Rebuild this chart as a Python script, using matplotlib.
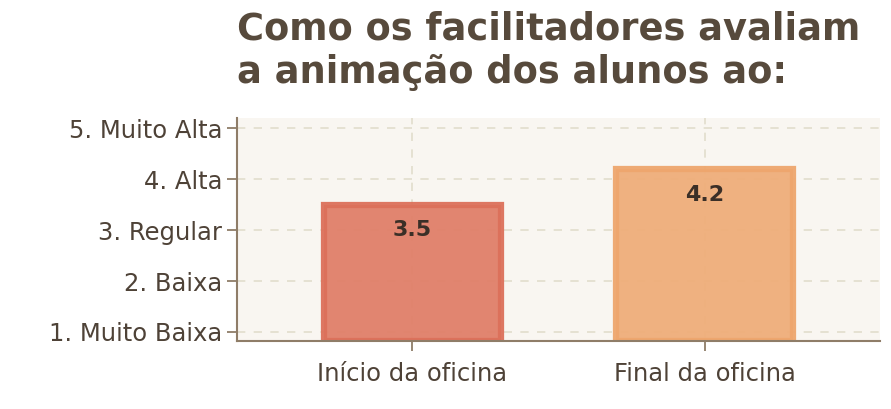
import matplotlib
matplotlib.use("Agg")
import matplotlib.pyplot as plt

categories = ["Início da oficina", "Final da oficina"]
values = [3.5, 4.2]
level_values = [1, 2, 3, 4, 5]
level_labels = ["1. Muito Baixa", "2. Baixa", "3. Regular", "4. Alta", "5. Muito Alta"]

face_colors = ["#e07f69", "#efae7a"]
edge_colors = ["#dc705a", "#eea66d"]
text_dark = "#4e4237"
spine_col = "#8f7d68"

fig = plt.figure(figsize=(8.91, 4.09), dpi=100)
ax = fig.add_axes([0.266, 0.166, 0.722, 0.545])
ax.set_facecolor("#f9f6f1")

xpos = list(range(len(categories)))
ax.grid(True, linestyle=(0, (5, 5)), color="#e2ddcc", linewidth=1.2, zorder=0)
ax.set_axisbelow(True)
ax.bar(xpos, [v - 0.82 for v in values], bottom=0.82, width=0.605,
       color=face_colors, edgecolor=edge_colors, linewidth=4.5, alpha=0.95, zorder=2)

for x, v in zip(xpos, values):
    ax.text(x, v - 0.5, f"{v:.1f}", ha="center", va="center",
            fontsize=16, fontweight="bold", color="#3b2f27", zorder=3)

ax.set_xlim(-0.6, 1.6)
ax.set_ylim(0.82, 5.2)
ax.set_xticks(xpos)
ax.set_xticklabels(categories)
ax.set_yticks(level_values)
ax.set_yticklabels(level_labels)
ax.tick_params(axis="both", labelsize=17.5, colors=spine_col, labelcolor=text_dark,
               length=7, width=1.3)
ax.tick_params(axis="x", pad=8)

for s in ["top", "right"]:
    ax.spines[s].set_visible(False)
for s in ["left", "bottom"]:
    ax.spines[s].set_color(spine_col)
    ax.spines[s].set_linewidth(1.5)

fig.text(0.266, 0.975, "Como os facilitadores avaliam\na animação dos alunos ao:",
         ha="left", va="top", fontsize=26.5, fontweight="bold", color="#574a3c",
         linespacing=1.25)

fig.savefig("out.png", dpi=100)
